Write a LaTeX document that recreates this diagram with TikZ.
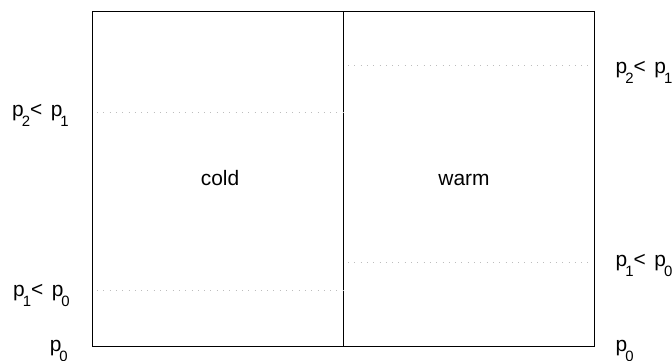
\documentclass[tikz,border=0pt]{standalone}
\usepackage{fontspec}
\setmainfont{Liberation Sans}
\usepackage{xcolor}
\definecolor{dotgray}{HTML}{bdbdbd}
\usepackage{tikz}
\newcommand{\psub}[1]{p\kern-2bp\raisebox{-10bp}{\fontsize{15}{15}\selectfont #1}}
\newcommand{\plt}{<\hspace{8.5bp}}

\begin{document}
\begin{tikzpicture}[x=1bp, y=-1bp, font=\fontsize{21}{25}\selectfont]
            \useasboundingbox (0, 0) rectangle (672, 360);

            \coordinate (tl) at (92, 11);
            \coordinate (br) at (594, 346);
            \coordinate (mt) at (343, 11);
            \coordinate (mb) at (343, 346);

            \draw [line width=0.8bp] (tl) rectangle (br);
            \draw [line width=0.8bp] (mt) to (mb);

            % pressure levels
            \coordinate (c2a) at (97, 112);
            \coordinate (c2b) at (343, 112);
            \coordinate (c1a) at (97, 290);
            \coordinate (c1b) at (343, 290);
            \coordinate (w2a) at (348, 65);
            \coordinate (w2b) at (588, 65);
            \coordinate (w1a) at (348, 262);
            \coordinate (w1b) at (588, 262);

            \draw [color=dotgray, line width=0.8bp, dash pattern=on 0.8bp off 5.5bp] (c2a) to (c2b);
            \draw [color=dotgray, line width=0.8bp, dash pattern=on 0.8bp off 5.5bp] (c1a) to (c1b);
            \draw [color=dotgray, line width=0.8bp, dash pattern=on 0.8bp off 5.5bp] (w2a) to (w2b);
            \draw [color=dotgray, line width=0.8bp, dash pattern=on 0.8bp off 5.5bp] (w1a) to (w1b);

            \node (cold) [anchor=base] at (220, 185) {cold};
            \node (warm) [anchor=base] at (464, 185) {warm};

            \node (l2) [anchor=base east, inner sep=0] at (69, 116) {\psub{2}\plt\psub{1}};
            \node (l1) [anchor=base east, inner sep=0] at (70, 296) {\psub{1}\plt\psub{0}};
            \node (l0) [anchor=base east, inner sep=0] at (68, 351) {\psub{0}};

            \node (r2) [anchor=base west, inner sep=0] at (615.5, 73) {\psub{2}\plt\psub{1}};
            \node (r1) [anchor=base west, inner sep=0] at (615.5, 266) {\psub{1}\plt\psub{0}};
            \node (r0) [anchor=base west, inner sep=0] at (615.5, 351) {\psub{0}};
        \end{tikzpicture}
\end{document}
